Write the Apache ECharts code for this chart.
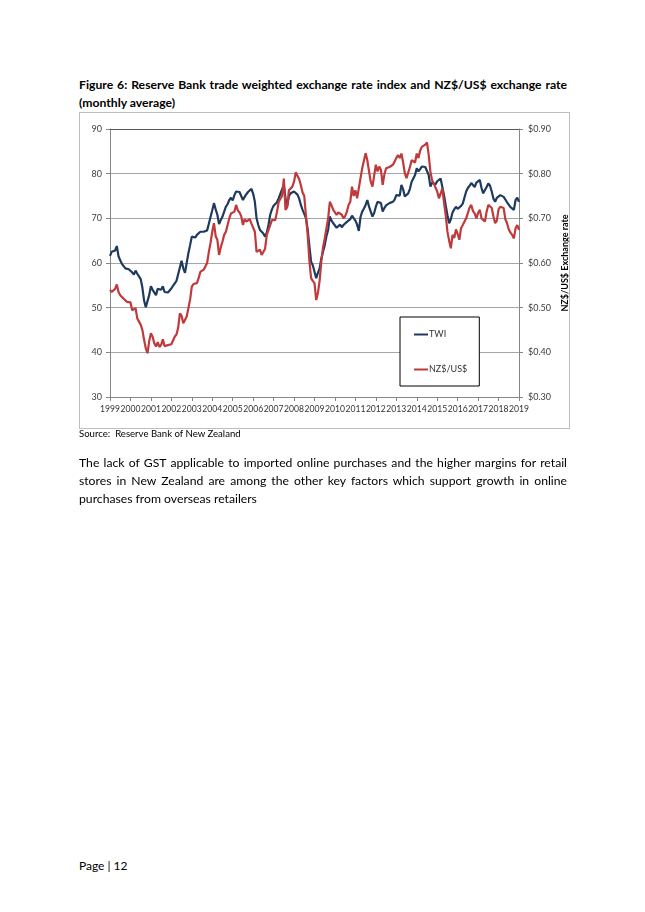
<!DOCTYPE html>
<html><head><meta charset="utf-8">
<script src="https://cdn.jsdelivr.net/npm/echarts@6/dist/echarts.min.js"></script>
<style>
html,body{margin:0;padding:0;background:#fff;}
body{width:645px;height:912px;position:relative;overflow:hidden;font-family:Lato,"Open Sans",sans-serif;color:#000;}
.ln{position:absolute;left:79px;width:488px;white-space:nowrap;text-align:justify;text-align-last:justify;}
.tt{font-weight:bold;font-size:12.2px;}
.bd{font-size:12.2px;}
#chart{position:absolute;left:79px;top:112px;width:490px;height:316px;}
#frame{position:absolute;left:79px;top:112px;width:489px;height:315px;border:1px solid #bfbfbf;pointer-events:none;}
</style></head>
<body>
<div class="ln tt" style="top:77px;">Figure 6: Reserve Bank trade weighted exchange rate index and NZ$/US$ exchange rate</div>
<div class="ln tt" style="top:95px;text-align-last:left;">(monthly average)</div>
<div id="chart"></div>
<div id="frame"></div>
<div style="position:absolute;left:79px;top:428px;font-size:9.6px;">Source:&nbsp; Reserve Bank of New Zealand</div>
<div class="ln bd" style="top:455px;">The lack of GST applicable to imported online purchases and the higher margins for retail</div>
<div class="ln bd" style="top:473px;">stores in New Zealand are among the other key factors which support growth in online</div>
<div class="ln bd" style="top:491px;text-align-last:left;">purchases from overseas retailers</div>
<div style="position:absolute;left:79px;top:858px;font-size:12px;">Page | 12</div>
<script>
// Year tick labels
const years = ['1999','2000','2001','2002','2003','2004','2005','2006','2007','2008','2009','2010','2011','2012','2013','2014','2015','2016','2017','2018','2019'];
// Monthly categories Jan 1999 .. Jan 2019
const months = [];
for (let y = 1999; y <= 2019; y++) {
  for (let m = 1; m <= 12; m++) {
    if (y === 2019 && m > 1) break;
    months.push(y + '-' + (m < 10 ? '0' + m : m));
  }
}
// Trade weighted index (monthly average)
const twi = [
61.6,62.5,62.3,62.8,63.8,61.5,60.6,59.8,59.3,58.8,58.5,58.6,
58.4,57.9,57.4,58.3,57.6,57.0,56.4,54.5,51.6,50.1,50.0,52.8,
54.8,54.0,53.8,52.8,54.2,53.8,54.0,54.8,53.5,53.6,53.4,53.8,
54.3,54.9,55.3,56.0,57.5,59.0,60.5,58.8,57.8,60.0,62.2,64.0,
65.9,66.2,65.7,66.3,66.5,67.0,67.4,67.0,66.8,67.3,68.8,70.3,
71.8,73.4,72.0,70.8,68.7,69.6,70.4,71.5,72.6,73.2,74.1,74.6,
74.0,75.2,76.0,76.3,75.9,75.0,74.1,74.8,75.4,75.9,76.1,76.6,
75.5,73.7,70.0,68.5,67.4,67.0,66.6,65.9,66.8,68.5,70.8,72.0,
72.8,72.5,73.6,74.5,75.5,75.8,77.5,74.5,72.8,75.0,75.6,75.8,
76.0,76.3,75.3,74.4,73.0,71.9,71.0,70.0,67.5,63.8,60.3,59.5,
59.2,56.6,57.8,58.8,61.0,62.5,64.0,66.0,67.4,70.4,69.5,68.9,
68.4,67.9,67.6,68.6,68.0,68.5,68.9,69.2,69.0,69.8,70.6,70.4,
69.5,68.6,67.2,70.3,71.5,72.2,73.0,74.1,72.6,71.5,70.4,71.2,
72.6,73.7,73.5,73.4,71.5,72.3,72.9,73.3,73.4,73.7,73.7,74.2,
75.2,75.6,75.1,77.5,76.5,74.9,74.9,75.6,76.6,78.2,77.8,79.7,
81.2,80.5,81.0,81.6,81.2,81.5,81.6,79.7,77.1,78.0,77.8,77.6,
78.3,78.1,78.9,79.1,75.2,72.9,70.7,68.9,69.8,71.3,72.0,72.6,
72.1,72.4,72.8,73.3,73.7,76.0,76.8,77.3,77.9,78.2,77.0,78.0,
78.4,78.6,76.8,75.6,75.6,77.0,77.8,77.3,76.0,74.4,73.7,74.6,
74.6,75.2,74.9,74.8,74.5,73.6,73.4,72.5,72.2,71.9,74.1,74.6,
73.7
];
// NZ$/US$ exchange rate (monthly average)
const nzdusd = [
0.540,0.535,0.532,0.542,0.552,0.535,0.528,0.525,0.520,0.517,0.513,0.510,
0.512,0.494,0.491,0.499,0.476,0.472,0.462,0.450,0.428,0.409,0.398,0.425,
0.443,0.435,0.420,0.413,0.423,0.412,0.417,0.429,0.414,0.415,0.416,0.418,
0.418,0.420,0.435,0.440,0.455,0.487,0.482,0.465,0.469,0.480,0.499,0.518,
0.547,0.553,0.550,0.555,0.566,0.580,0.582,0.585,0.588,0.600,0.625,0.645,
0.670,0.689,0.660,0.652,0.618,0.635,0.648,0.663,0.670,0.685,0.700,0.711,
0.710,0.715,0.730,0.718,0.713,0.705,0.685,0.698,0.693,0.695,0.698,0.688,
0.687,0.670,0.625,0.625,0.630,0.618,0.620,0.632,0.663,0.665,0.685,0.696,
0.695,0.696,0.715,0.737,0.738,0.750,0.789,0.719,0.725,0.763,0.766,0.771,
0.782,0.803,0.795,0.788,0.774,0.758,0.750,0.705,0.663,0.605,0.566,0.560,
0.555,0.517,0.533,0.560,0.603,0.635,0.655,0.678,0.700,0.737,0.729,0.719,
0.719,0.708,0.713,0.710,0.708,0.700,0.705,0.715,0.730,0.737,0.771,0.750,
0.763,0.745,0.743,0.790,0.812,0.815,0.846,0.830,0.805,0.782,0.771,0.773,
0.820,0.805,0.816,0.808,0.775,0.798,0.812,0.810,0.815,0.818,0.820,0.827,
0.835,0.842,0.835,0.845,0.825,0.801,0.790,0.793,0.815,0.830,0.828,0.825,
0.845,0.835,0.852,0.860,0.863,0.865,0.870,0.842,0.805,0.785,0.778,0.776,
0.760,0.745,0.755,0.767,0.735,0.707,0.670,0.650,0.633,0.663,0.656,0.675,
0.665,0.652,0.678,0.685,0.683,0.700,0.712,0.724,0.730,0.716,0.711,0.700,
0.712,0.719,0.700,0.699,0.693,0.715,0.730,0.728,0.723,0.704,0.689,0.695,
0.720,0.726,0.724,0.723,0.698,0.689,0.675,0.668,0.663,0.655,0.678,0.685,
0.674
];

const chart = echarts.init(document.getElementById('chart'), null, {renderer: 'canvas'});
const axisFont = {fontFamily: 'Lato, sans-serif', fontSize: 9, color: '#404040'};
chart.setOption({
  animation: false,
  backgroundColor: '#fff',
  grid: {left: 31, right: 50, top: 17, bottom: 31, containLabel: false, outerBoundsMode: 'none'},
  legend: {
    orient: 'vertical', left: 321, top: 205,
    data: ['TWI', 'NZ$/US$'],
    itemWidth: 14, itemHeight: 10, itemGap: 26,
    icon: 'path://M0,4 L14,4 L14,6 L0,6 Z',
    padding: [13, 12, 12, 14],
    borderColor: '#000', borderWidth: 1, backgroundColor: '#fff',
    textStyle: {fontFamily: 'Lato, sans-serif', fontSize: 9, color: '#333', padding: [0, 0, 0, -4]}
  },
  xAxis: [{
    type: 'category', data: months, boundaryGap: false,
    axisLine: {lineStyle: {color: '#868686', width: 1}},
    axisTick: {show: true, length: 4, interval: function (i) { return i % 12 === 0; }, lineStyle: {color: '#868686'}},
    axisLabel: Object.assign({}, axisFont, {
      fontSize: 8.6, color: '#333',
      margin: 8, showMinLabel: true, showMaxLabel: true, hideOverlap: false,
      interval: function (i) { return i % 12 === 0; },
      formatter: function (v, i) { return years[Math.round(i / 12)]; }
    }),
    splitLine: {show: false}
  }, {
    type: 'category', data: months, boundaryGap: false, position: 'top',
    axisLine: {lineStyle: {color: '#595959', width: 1}},
    axisTick: {show: false}, axisLabel: {show: false}
  }],
  yAxis: [{
    type: 'value', min: 30, max: 90, interval: 10,
    name: 'TWI', nameLocation: 'middle', nameGap: 21, nameRotate: 90,
    nameTextStyle: {fontFamily: 'Lato, sans-serif', fontSize: 9, fontWeight: 'bold', color: '#000'},
    axisLine: {show: true, lineStyle: {color: '#868686'}},
    axisTick: {show: true, length: 4, lineStyle: {color: '#868686'}},
    axisLabel: Object.assign({}, axisFont, {margin: 8}),
    splitLine: {lineStyle: {color: '#a6a6a6', width: 1}}
  }, {
    type: 'value', min: 0.3, max: 0.9, interval: 0.1, position: 'right',
    name: 'NZ$/US$ Exchange rate', nameLocation: 'middle', nameGap: 42, nameRotate: 90,
    nameMoveOverlap: false,
    nameTextStyle: {fontFamily: 'Lato, sans-serif', fontSize: 9, fontWeight: 'bold', color: '#000'},
    axisLine: {show: true, lineStyle: {color: '#868686'}},
    axisTick: {show: true, length: 4, lineStyle: {color: '#868686'}},
    axisLabel: Object.assign({}, axisFont, {margin: 9, formatter: function (v) { return '$' + v.toFixed(2); }}),
    splitLine: {show: false}
  }],
  series: [{
    name: 'TWI', type: 'line', data: twi, yAxisIndex: 0,
    showSymbol: false, symbol: 'none', color: '#1f3a5f',
    lineStyle: {width: 2.2, color: '#1f3a5f'}
  }, {
    name: 'NZ$/US$', type: 'line', data: nzdusd, yAxisIndex: 1,
    showSymbol: false, symbol: 'none', color: '#c0393b',
    lineStyle: {width: 2.2, color: '#c0393b'}
  }]
});
</script>
</body></html>
